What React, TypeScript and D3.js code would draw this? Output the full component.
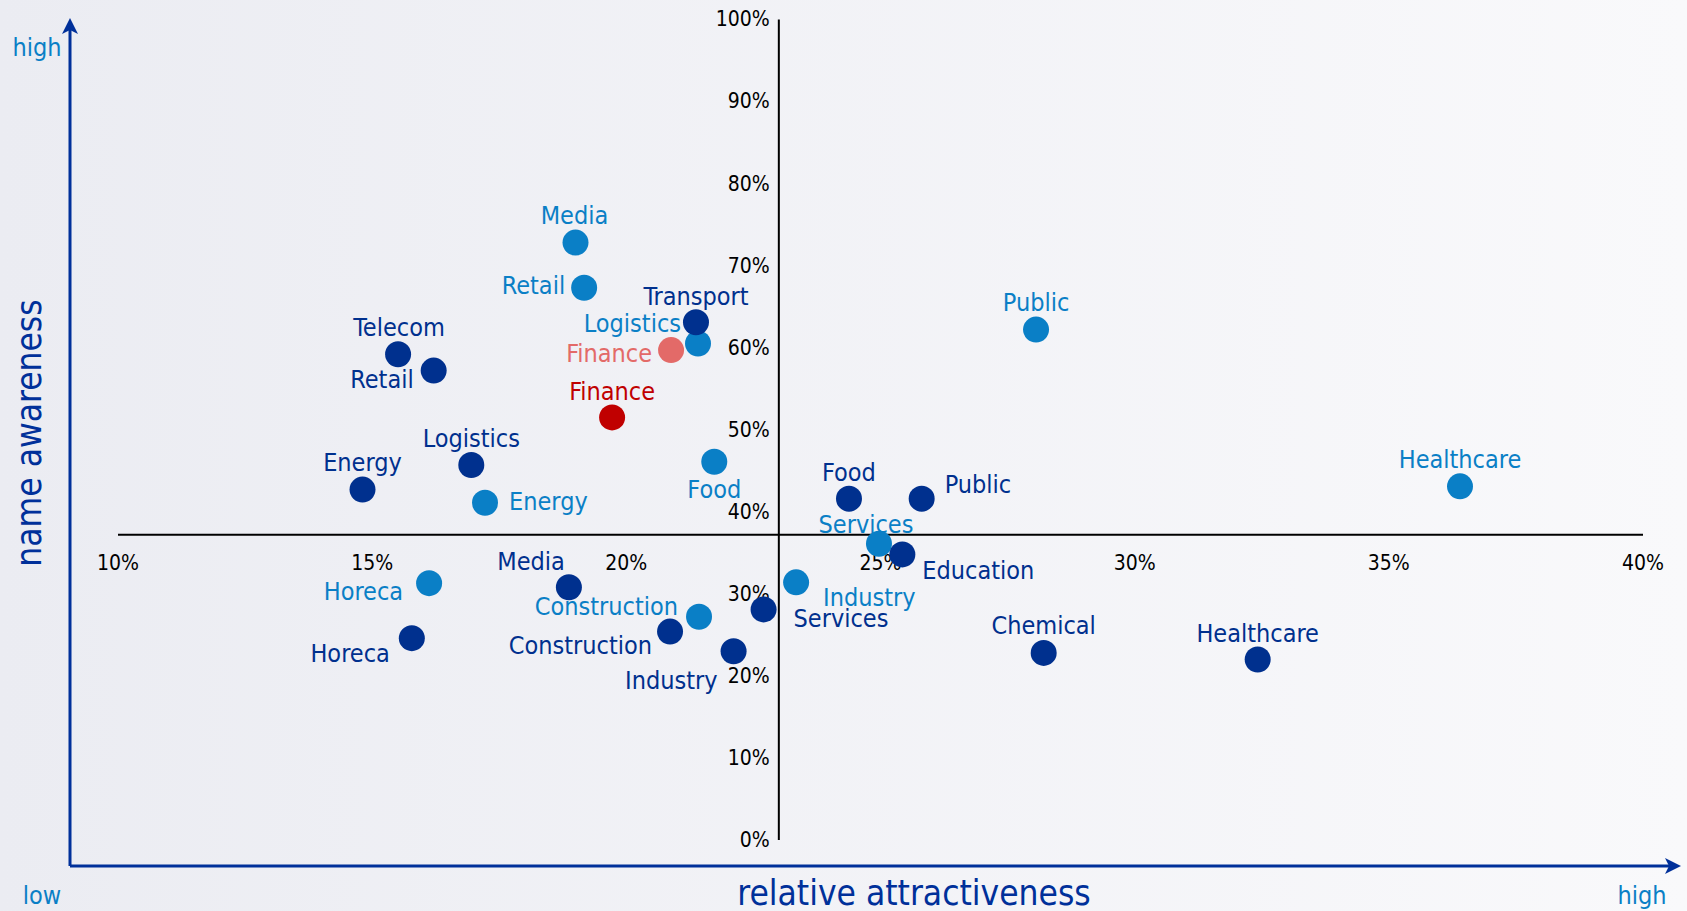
import React from "react";
import * as d3 from "d3";

const W = 1687;
const H = 911;

const xTicks = [10, 15, 20, 25, 30, 35, 40];
const yTicks = [0, 10, 20, 30, 40, 50, 60, 70, 80, 90, 100];
const crossX = 23;
const crossY = 37.2;

// light blue series
const lightNames = ["Media", "Retail", "Logistics", "Public", "Food", "Energy", "Healthcare", "Services", "Industry", "Horeca", "Construction"];
const lightX = [19.0, 19.17, 21.41, 28.06, 21.73, 17.22, 36.4, 24.97, 23.34, 16.12, 21.43];
const lightY = [72.8, 67.3, 60.5, 62.2, 46.1, 41.1, 43.1, 36.1, 31.4, 31.3, 27.2];

// dark blue series
const darkNames = ["Transport", "Telecom", "Retail", "Logistics", "Energy", "Food", "Public", "Education", "Media", "Services", "Construction", "Industry", "Horeca", "Chemical", "Healthcare"];
const darkX = [21.37, 15.51, 16.21, 16.95, 14.81, 24.38, 25.81, 25.43, 18.87, 22.7, 20.86, 22.11, 15.78, 28.21, 32.42];
const darkY = [63.1, 59.2, 57.2, 45.7, 42.7, 41.6, 41.6, 34.8, 30.8, 28.1, 25.4, 23.0, 24.6, 22.8, 22.0];

// finance (highlighted)
const financeNames = ["Finance", "Finance"];
const financeX = [20.88, 19.72];
const financeY = [59.7, 51.5];

type Place = [string, number, number];

const lightPlace: Place[] = [
  ["middle", -1, -27], ["end", -19, -2], ["end", -17, -20], ["middle", 0, -27],
  ["middle", 0, 28], ["start", 24, -1], ["middle", 0, -27], ["middle", -13, -19],
  ["start", 27, 15], ["end", -26, 8], ["end", -21, -10],
];
const darkPlace: Place[] = [
  ["middle", 0, -26], ["middle", 1, -27], ["end", -20, 9], ["middle", 0, -26],
  ["middle", 0, -27], ["middle", 0, -26], ["start", 23, -14], ["start", 20, 16],
  ["end", -4, -26], ["start", 30, 9], ["end", -18, 14], ["end", -16, 29],
  ["end", -22, 15], ["middle", 0, -27], ["middle", 0, -26],
];
const financePlace: Place[] = [["end", -19, 3], ["middle", 0, -26]];

const LIGHT = "#0a7fc6";
const DARK = "#00308e";
const SALMON = "#e36a68";
const RED = "#c00000";
const AXIS = "#00309a";
const FONT = "'DejaVu Sans Condensed', 'DejaVu Sans', sans-serif";

const App = () => {
  const x = d3.scaleLinear().domain([10, 40]).range([118, 1643]);
  const y = d3.scaleLinear().domain([0, 100]).range([840, 19.4]);
  const r = 13;

  const series = [
    { names: lightNames, xs: lightX, ys: lightY, place: lightPlace, colors: lightNames.map(() => LIGHT) },
    { names: darkNames, xs: darkX, ys: darkY, place: darkPlace, colors: darkNames.map(() => DARK) },
    { names: financeNames, xs: financeX, ys: financeY, place: financePlace, colors: [SALMON, RED] },
  ];

  return (
    <svg width={W} height={H} style={{ position: "absolute", left: 0, top: 0, display: "block" }} fontFamily={FONT}>
      <defs>
        <linearGradient id="bg" x1="0" x2="1" y1="0" y2="0">
          <stop offset="0" stopColor="#ebecf2" />
          <stop offset="1" stopColor="#f9f9fb" />
        </linearGradient>
      </defs>
      <rect width={W} height={H} fill="url(#bg)" />

      {/* outer arrows */}
      <path d={`M70,866 L70,24`} stroke={AXIS} strokeWidth={3} fill="none" />
      <path d={`M70,866 L1674,866`} stroke={AXIS} strokeWidth={3} fill="none" />
      <path d="M70,18 L78,34 L70,30 L62,34 Z" fill={AXIS} />
      <path d="M1681,866 L1665,874 L1669,866 L1665,858 Z" fill={AXIS} />
      <text x={37} y={47} fontSize={25} fill={LIGHT} textAnchor="middle" dominantBaseline="central">high</text>
      <text x={42} y={895} fontSize={25} fill={LIGHT} textAnchor="middle" dominantBaseline="central">low</text>
      <text x={1642} y={895} fontSize={25} fill={LIGHT} textAnchor="middle" dominantBaseline="central">high</text>
      <text x={914} y={893} fontSize={35} fill={AXIS} textAnchor="middle" dominantBaseline="central">relative attractiveness</text>
      <text transform="translate(29,433) rotate(-90)" fontSize={35} fill={AXIS} textAnchor="middle" dominantBaseline="central">name awareness</text>

      {/* cross axes */}
      <line x1={x(10)} x2={x(40)} y1={y(crossY)} y2={y(crossY)} stroke="#000" strokeWidth={2} />
      <line x1={x(crossX)} x2={x(crossX)} y1={y(100)} y2={y(0)} stroke="#000" strokeWidth={2} />
      {xTicks.map((t) => (
        <text key={`xt${t}`} x={x(t)} y={y(crossY) + 28} fontSize={21} textAnchor="middle" dominantBaseline="central" fill="#000">{`${t}%`}</text>
      ))}
      {yTicks.map((t) => (
        <text key={`yt${t}`} x={x(crossX) - 9} y={y(t)} fontSize={21} textAnchor="end" dominantBaseline="central" fill="#000">{`${t}%`}</text>
      ))}

      {/* labels */}
      {series.map((s, si) =>
        s.names.map((n, i) => (
          <text
            key={`l${si}-${i}`}
            x={x(s.xs[i]) + s.place[i][1]}
            y={y(s.ys[i]) + s.place[i][2]}
            textAnchor={s.place[i][0] as any}
            dominantBaseline="central"
            fontSize={25}
            fill={s.colors[i]}
          >
            {n}
          </text>
        ))
      )}

      {/* dots */}
      {series.map((s, si) =>
        s.names.map((n, i) => (
          <circle key={`c${si}-${i}`} cx={x(s.xs[i])} cy={y(s.ys[i])} r={r} fill={s.colors[i]} />
        ))
      )}
    </svg>
  );
};

export default App;
